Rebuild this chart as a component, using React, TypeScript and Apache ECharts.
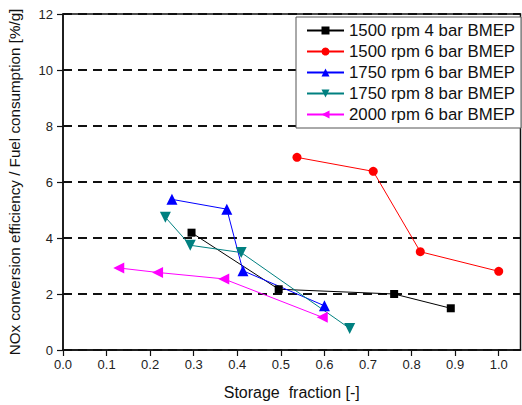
import React, { useEffect, useRef } from "react";
import * as echarts from "echarts";

// Storage fraction [-] vs. NOx conversion efficiency / fuel consumption [%/g]
const rpm1500bar4: [number, number][] = [
  [0.295, 4.19],
  [0.495, 2.17],
  [0.76, 2.0],
  [0.89, 1.49],
];
const rpm1500bar6: [number, number][] = [
  [0.537, 6.88],
  [0.712, 6.38],
  [0.82, 3.51],
  [1.0, 2.81],
];
const rpm1750bar6: [number, number][] = [
  [0.25, 5.38],
  [0.376, 5.03],
  [0.413, 2.83],
  [0.6, 1.58],
];
const rpm1750bar8: [number, number][] = [
  [0.235, 4.74],
  [0.292, 3.74],
  [0.409, 3.48],
  [0.658, 0.77],
];
const rpm2000bar6: [number, number][] = [
  [0.128, 2.93],
  [0.217, 2.77],
  [0.369, 2.54],
  [0.595, 1.17],
];

const seriesNames = [
  "1500 rpm 4 bar BMEP",
  "1500 rpm 6 bar BMEP",
  "1750 rpm 6 bar BMEP",
  "1750 rpm 8 bar BMEP",
  "2000 rpm 6 bar BMEP",
];
const xTicks = [0, 0.1, 0.2, 0.3, 0.4, 0.5, 0.6, 0.7, 0.8, 0.9, 1.0];

const FONT = "'Liberation Sans', Arial, sans-serif";

export default function App() {
  const ref = useRef<HTMLDivElement>(null);

  useEffect(() => {
    if (!ref.current) return;
    const chart = echarts.init(ref.current, undefined, { renderer: "svg" });

    const mk = (
      name: string,
      data: [number, number][],
      color: string,
      symbol: string,
      size: number,
      rotate = 0
    ) => ({
      name,
      type: "line",
      data,
      symbol,
      symbolSize: size,
      symbolRotate: rotate,
      lineStyle: { color, width: 1 },
      itemStyle: { color },
      z: 3,
    });

    chart.setOption({
      animation: false,
      backgroundColor: "#fff",
      textStyle: { fontFamily: FONT },
      grid: {
        left: 63,
        top: 14,
        right: 1.5,
        bottom: 55,
        outerBoundsMode: "none",
        containLabel: false,
        show: true,
        borderColor: "#111",
        borderWidth: 1.5,
        backgroundColor: "transparent",
      },
      legend: {
        orient: "vertical",
        left: 296,
        top: 17,
        padding: [5, 6, 5, 10],
        itemWidth: 37,
        itemHeight: 10,
        itemGap: 4,
        backgroundColor: "#fff",
        borderColor: "#555",
        borderWidth: 1,
        textStyle: { fontSize: 16.8, lineHeight: 16, color: "#111", fontFamily: FONT },
        data: seriesNames,
      },
      xAxis: {
        type: "value",
        min: 0,
        max: 1.05,
        interval: 0.1,
        name: "Storage  fraction [-]",
        nameLocation: "middle",
        nameGap: 34,
        nameTextStyle: { fontSize: 16, color: "#111", fontFamily: FONT },
        axisLine: { show: true, lineStyle: { color: "#111", width: 1.5 } },
        axisTick: {
          show: true,
          inside: false,
          length: 6,
          customValues: xTicks,
          lineStyle: { color: "#111", width: 1.2 },
        },
        axisLabel: {
          fontSize: 13,
          color: "#222",
          margin: 8,
          customValues: xTicks,
          formatter: (v: number) => v.toFixed(1),
        },
        splitLine: { show: false },
      },
      yAxis: {
        type: "value",
        min: 0,
        max: 12,
        interval: 2,
        name: "NOx conversion efficiency / Fuel consumption [%/g]",
        nameLocation: "middle",
        nameRotate: 90,
        nameGap: 41,
        nameTextStyle: { fontSize: 15.2, color: "#111", fontFamily: FONT },
        axisLine: { show: true, lineStyle: { color: "#111", width: 1.5 } },
        axisTick: { show: true, inside: false, length: 6, lineStyle: { color: "#111", width: 1.2 } },
        axisLabel: { fontSize: 13, color: "#222", margin: 10 },
        splitLine: {
          show: true,
          lineStyle: { color: "#111", width: 1.8, type: [9, 6] },
        },
      },
      series: [
        mk(seriesNames[0], rpm1500bar4, "#000000", "rect", 8),
        mk(seriesNames[1], rpm1500bar6, "#ff0000", "circle", 9),
        mk(seriesNames[2], rpm1750bar6, "#0000ff", "triangle", 11),
        mk(seriesNames[3], rpm1750bar8, "#008080", "triangle", 11, 180),
        mk(seriesNames[4], rpm2000bar6, "#ff00ff", "triangle", 11, 90),
      ],
    });

    return () => chart.dispose();
  }, []);

  return (
    <div
      ref={ref}
      style={{ position: "fixed", left: 0, top: 0, width: 522, height: 405 }}
    />
  );
}
